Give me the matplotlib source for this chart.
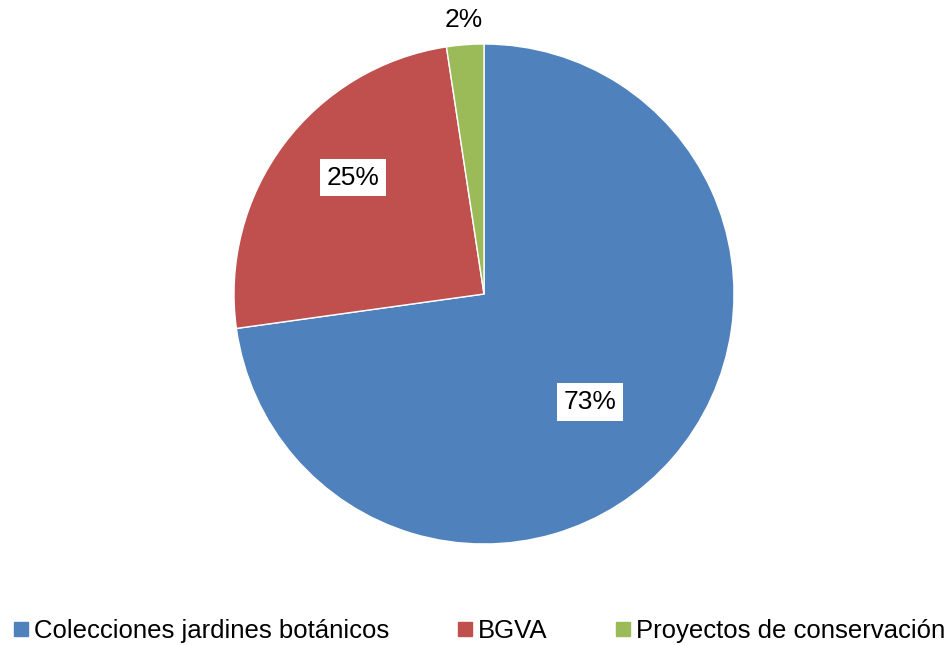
import numpy as np
import matplotlib
matplotlib.use("Agg")
import matplotlib.pyplot as plt
from matplotlib.lines import Line2D

categories = ["Colecciones jardines botánicos", "BGVA", "Proyectos de conservación"]
values = [72.8, 24.8, 2.4]
labels = ["73%", "25%", "2%"]
colors = ["#4F81BD", "#C0504D", "#9BBB59"]
label_dist = [0.605, 0.7, 1.1]
label_shift = [-4.5, -5.0, 0.0]

plt.rcParams['font.family'] = ['Liberation Sans', 'DejaVu Sans']

W, H = 949, 645
fig = plt.figure(figsize=(W / 100, H / 100), dpi=100)
cx, cy, R = 484, 294, 250
ax = fig.add_axes([(cx - R) / W, (H - cy - R) / H, 2 * R / W, 2 * R / H])
wedges, _ = ax.pie(values, colors=colors, startangle=90, counterclock=False,
                   radius=1, wedgeprops=dict(linewidth=1, edgecolor='white'))
ax.set_xlim(-1, 1)
ax.set_ylim(-1, 1)
ax.set_aspect('equal')

for w, lab, d, s in zip(wedges, labels, label_dist, label_shift):
    ang = np.deg2rad((w.theta1 + w.theta2) / 2 + s)
    x, y = d * np.cos(ang), d * np.sin(ang)
    ax.text(x, y, lab, ha='center', va='center', fontsize=19, color='black',
            bbox=dict(boxstyle='square,pad=0.25', facecolor='white', edgecolor='none'),
            clip_on=False)

handles = [Line2D([], [], marker='s', linestyle='none', markersize=10,
                  markerfacecolor=c, markeredgecolor=c) for c in colors]
fig.legend(handles, categories, loc='center', bbox_to_anchor=(478 / W, (H - 631) / H),
           ncol=3, frameon=False, fontsize=18.5, handletextpad=0.1,
           columnspacing=2.55, handlelength=0.8, borderpad=0, borderaxespad=0)

fig.savefig("out.png", dpi=100)
